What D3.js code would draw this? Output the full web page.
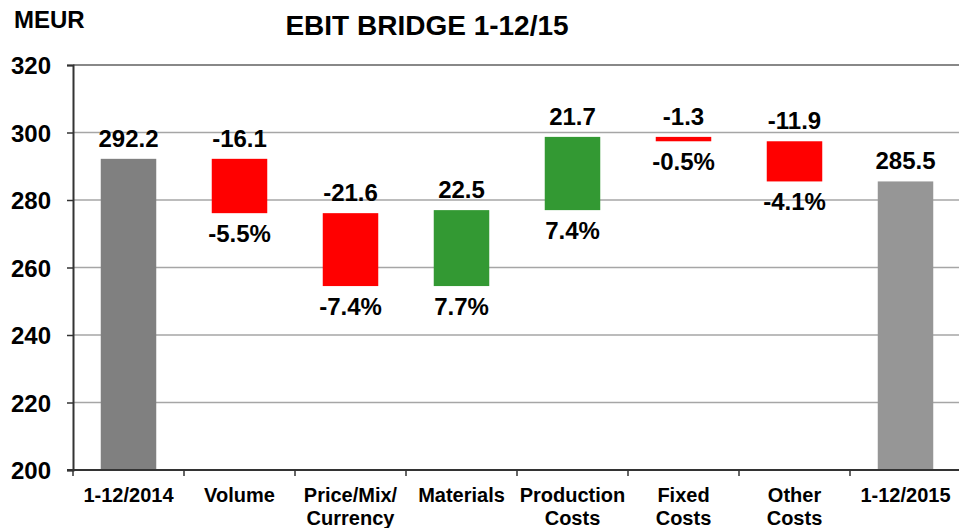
<!DOCTYPE html>
<html>
<head>
<meta charset="utf-8">
<script src="https://cdn.jsdelivr.net/npm/d3@7"></script>
<style>
	body { margin: 0; background: #fff; }
	svg text { font-family: "Liberation Sans", Arial, sans-serif; font-weight: bold; fill: #000; }
</style>
</head>
<body>
<svg id="chart" width="959" height="528"></svg>
<script>
// bridge steps, first and last are totals
var categories = ["1-12/2014", "Volume", "Price/Mix/\nCurrency", "Materials", "Production\nCosts", "Fixed\nCosts", "Other\nCosts", "1-12/2015"];
var stepValues = [292.2, -16.1, -21.6, 22.5, 21.7, -1.3, -11.9, 285.5];
var percentLabels = ["", "-5.5%", "-7.4%", "7.7%", "7.4%", "-0.5%", "-4.1%", ""];
var isTotal = [true, false, false, false, false, false, false, true];
var yTicks = [200, 220, 240, 260, 280, 300, 320];

var svg = d3.select("#chart");

var plot = {left: 73, right: 961, top: 65, bottom: 470};

var x = d3.scaleBand()
	.domain(categories)
	.range([plot.left, plot.right])
	.paddingInner(0.5)
	.paddingOuter(0.25);

var y = d3.scaleLinear()
	.domain([200, 320])
	.range([plot.bottom, plot.top]);

// work out start/end of each floating bar
var bars = [];
var running = 0;
stepValues.forEach(function(v, i) {
	var from, to;
	if (isTotal[i]) {
		from = 200; to = v; running = v;
	} else {
		from = running; to = running + v; running = to;
	}
	bars.push({
		name: categories[i],
		value: v,
		pct: percentLabels[i],
		lo: Math.min(from, to),
		hi: Math.max(from, to),
		total: isTotal[i],
		index: i
	});
});

function barColor(d) {
	if (d.total) return d.index === 0 ? "#808080" : "#969696";
	return d.value < 0 ? "#ff0000" : "#339933";
}

// gridlines
svg.append("g")
	.selectAll("line")
	.data(yTicks.filter(function(t) { return t > 200; }))
	.enter().append("line")
	.attr("x1", plot.left)
	.attr("x2", 959)
	.attr("y1", function(d) { return y(d); })
	.attr("y2", function(d) { return y(d); })
	.attr("stroke", function(d) { return d === 320 ? "#888" : "#a6a6a6"; })
	.attr("stroke-width", function(d) { return d === 320 ? 2 : 1.3; });

// bars
svg.append("g")
	.selectAll("rect")
	.data(bars)
	.enter().append("rect")
	.attr("x", function(d) { return x(d.name); })
	.attr("width", x.bandwidth())
	.attr("y", function(d) { return y(d.hi); })
	.attr("height", function(d) { return y(d.lo) - y(d.hi); })
	.attr("fill", barColor);

// y axis
var yAxis = d3.axisLeft(y).tickValues(yTicks).tickSize(6).tickPadding(16);
var yg = svg.append("g")
	.attr("transform", "translate(" + plot.left + ",0)")
	.call(yAxis);
yg.select(".domain").attr("stroke", "#333").attr("stroke-width", 2);
yg.selectAll(".tick line").attr("stroke", "#333").attr("stroke-width", 1.5);
yg.selectAll(".tick text").style("font-size", "24px").attr("dy", "0.36em");

// x axis, ticks between categories
var xg = svg.append("g");
xg.append("line")
	.attr("x1", plot.left - 6)
	.attr("x2", 959)
	.attr("y1", plot.bottom)
	.attr("y2", plot.bottom)
	.attr("stroke", "#333")
	.attr("stroke-width", 2);
xg.selectAll(".xtick")
	.data(categories)
	.enter().append("line")
	.attr("class", "xtick")
	.attr("x1", function(d) { return x(d) - x.step() * x.paddingInner() / 2; })
	.attr("x2", function(d) { return x(d) - x.step() * x.paddingInner() / 2; })
	.attr("y1", plot.bottom)
	.attr("y2", plot.bottom + 6)
	.attr("stroke", "#333")
	.attr("stroke-width", 1.5);

var catText = xg.selectAll(".xlabel")
	.data(categories)
	.enter().append("text")
	.attr("class", "xlabel")
	.attr("text-anchor", "middle")
	.style("font-size", "20px");
catText.each(function(d) {
	var cx = x(d) + x.bandwidth() / 2;
	d3.select(this).selectAll("tspan")
		.data(d.split("\n"))
		.enter().append("tspan")
		.attr("x", cx)
		.attr("y", function(line, i) { return 502 + i * 23; })
		.text(function(line) { return line; });
});

// value labels above, percentages below
svg.append("g")
	.selectAll("text")
	.data(bars)
	.enter().append("text")
	.attr("text-anchor", "middle")
	.style("font-size", "24px")
	.attr("x", function(d) { return x(d.name) + x.bandwidth() / 2; })
	.attr("y", function(d) { return y(d.hi) - 12; })
	.text(function(d) { return d.value.toFixed(1); });

svg.append("g")
	.selectAll("text")
	.data(bars.filter(function(d) { return d.pct !== ""; }))
	.enter().append("text")
	.attr("text-anchor", "middle")
	.style("font-size", "24px")
	.attr("x", function(d) { return x(d.name) + x.bandwidth() / 2; })
	.attr("y", function(d) { return y(d.lo) + 29; })
	.text(function(d) { return d.pct; });

// titles
svg.append("text")
	.attr("x", 14)
	.attr("y", 28)
	.style("font-size", "24px")
	.text("MEUR");
svg.append("text")
	.attr("x", 427)
	.attr("y", 35)
	.attr("text-anchor", "middle")
	.style("font-size", "28px")
	.text("EBIT BRIDGE 1-12/15");
</script>
</body>
</html>
